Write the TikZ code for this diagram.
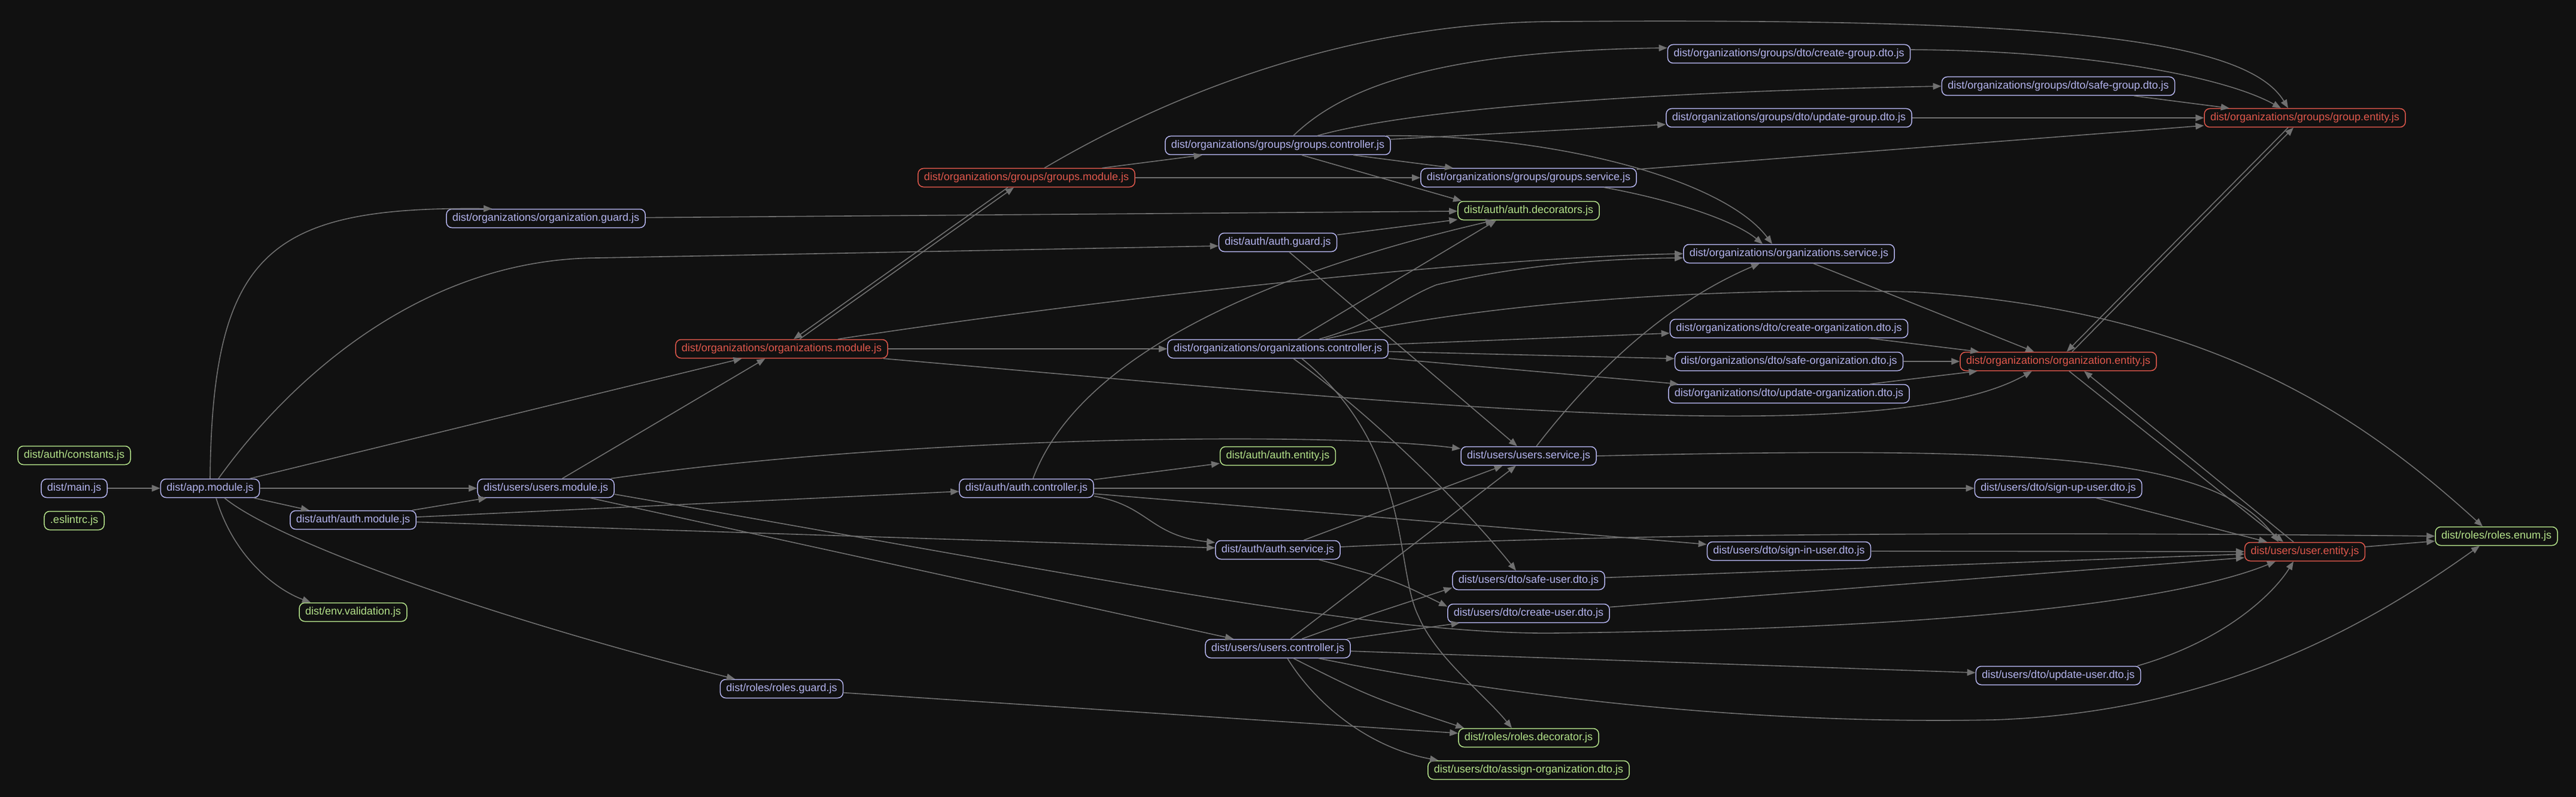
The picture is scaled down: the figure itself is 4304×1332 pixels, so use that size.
\documentclass[tikz,border=0pt]{standalone}
\usepackage{fontspec}
\setmainfont{Liberation Sans}
\usetikzlibrary{arrows.meta}

\definecolor{bgcol}{HTML}{111111}
\definecolor{edgecol}{HTML}{707070}
\definecolor{lavcol}{HTML}{B4B4EE}
\definecolor{redcol}{HTML}{E0584C}
\definecolor{greencol}{HTML}{B4E28A}

\tikzset{
  file/.style={rectangle,rounded corners=9pt,line width=1.5pt,fill=bgcol,inner xsep=10pt,inner ysep=0pt,minimum height=31pt,font=\fontsize{18pt}{20pt}\selectfont},
  plainfile/.style={file,draw=lavcol,text=lavcol},
  cyclefile/.style={file,draw=redcol,text=redcol},
  leaffile/.style={file,draw=greencol,text=greencol},
  dep/.style={draw=edgecol,line width=1.6pt,-{Triangle[length=14pt,width=11pt]}}
}

\begin{document}
\begin{tikzpicture}[x=1pt,y=-1pt]
\fill[bgcol] (0.000000,0.000000) rectangle (4304.000000,1332.000000);
% Drawing files
% Rank 1
\node[leaffile] (constants) at (124.000000,761.000000) {dist/auth/constants.js};
\node[plainfile] (main) at (124.000000,816.000000) {dist/main.js};
\node[leaffile] (eslintrc) at (124.000000,870.000000) {.eslintrc.js};
% Rank 2
\node[plainfile] (app) at (351.000000,816.000000) {dist/app.module.js};
% Rank 3
\node[plainfile] (authmod) at (590.000000,869.000000) {dist/auth/auth.module.js};
\node[leaffile] (envval) at (590.000000,1023.000000) {dist/env.validation.js};
% Rank 4
\node[plainfile] (orgguard) at (912.000000,365.000000) {dist/organizations/organization.guard.js};
\node[plainfile] (usersmod) at (912.000000,816.000000) {dist/users/users.module.js};
% Rank 5
\node[cyclefile] (orgmod) at (1306.000000,583.000000) {dist/organizations/organizations.module.js};
\node[plainfile] (rolesguard) at (1306.000000,1151.000000) {dist/roles/roles.guard.js};
% Rank 6
\node[cyclefile] (groupsmod) at (1715.000000,297.000000) {dist/organizations/groups/groups.module.js};
\node[plainfile] (authctrl) at (1715.000000,816.000000) {dist/auth/auth.controller.js};
% Rank 7
\node[plainfile] (groupsctrl) at (2135.000000,243.000000) {dist/organizations/groups/groups.controller.js};
\node[plainfile] (authguard) at (2135.000000,405.000000) {dist/auth/auth.guard.js};
\node[plainfile] (orgctrl) at (2135.000000,583.000000) {dist/organizations/organizations.controller.js};
\node[leaffile] (authentity) at (2135.000000,762.000000) {dist/auth/auth.entity.js};
\node[plainfile] (authsvc) at (2135.000000,919.000000) {dist/auth/auth.service.js};
\node[plainfile] (usersctrl) at (2135.000000,1084.000000) {dist/users/users.controller.js};
% Rank 8
\node[plainfile] (groupssvc) at (2554.000000,297.000000) {dist/organizations/groups/groups.service.js};
\node[leaffile] (authdec) at (2554.000000,352.000000) {dist/auth/auth.decorators.js};
\node[plainfile] (userssvc) at (2554.000000,762.000000) {dist/users/users.service.js};
\node[plainfile] (safeuser) at (2554.000000,970.000000) {dist/users/dto/safe-user.dto.js};
\node[plainfile] (createuser) at (2554.000000,1025.000000) {dist/users/dto/create-user.dto.js};
\node[leaffile] (rolesdec) at (2554.000000,1233.000000) {dist/roles/roles.decorator.js};
\node[leaffile] (assignorg) at (2554.000000,1287.000000) {dist/users/dto/assign-organization.dto.js};
% Rank 9
\node[plainfile] (creategroup) at (2989.000000,90.000000) {dist/organizations/groups/dto/create-group.dto.js};
\node[plainfile] (updategroup) at (2989.000000,197.000000) {dist/organizations/groups/dto/update-group.dto.js};
\node[plainfile] (orgsvc) at (2989.000000,424.000000) {dist/organizations/organizations.service.js};
\node[plainfile] (createorg) at (2989.000000,549.000000) {dist/organizations/dto/create-organization.dto.js};
\node[plainfile] (safeorg) at (2989.000000,604.000000) {dist/organizations/dto/safe-organization.dto.js};
\node[plainfile] (updateorg) at (2989.000000,658.000000) {dist/organizations/dto/update-organization.dto.js};
\node[plainfile] (signin) at (2989.000000,921.000000) {dist/users/dto/sign-in-user.dto.js};
% Rank 10
\node[plainfile] (safegroup) at (3439.000000,144.000000) {dist/organizations/groups/dto/safe-group.dto.js};
\node[cyclefile] (orgentity) at (3439.000000,604.000000) {dist/organizations/organization.entity.js};
\node[plainfile] (signup) at (3439.000000,816.000000) {dist/users/dto/sign-up-user.dto.js};
\node[plainfile] (updateuser) at (3439.000000,1129.000000) {dist/users/dto/update-user.dto.js};
% Rank 11
\node[cyclefile] (groupentity) at (3851.000000,197.000000) {dist/organizations/groups/group.entity.js};
\node[cyclefile] (userentity) at (3851.000000,922.000000) {dist/users/user.entity.js};
% Rank 12
\node[leaffile] (rolesenum) at (4171.000000,896.000000) {dist/roles/roles.enum.js};
% Done with files; drawing dependencies
% main.js
\draw[dep] (main) -- (app);
% app.module.js
\draw[dep] (app.north) .. controls (355.000000,420.000000) and (450.000000,345.000000) .. ([xshift=-90pt]orgguard.north);
\draw[dep] ([xshift=14pt]app.north) .. controls (480.000000,640.000000) and (700.000000,432.000000) .. (1000.000000,431.000000) -- ([yshift=-6pt]authguard.west);
\draw[dep] (app) -- (orgmod);
\draw[dep] (app) -- (usersmod);
\draw[dep] (app) -- (authmod);
\draw[dep] ([xshift=10pt]app.south) .. controls (390.000000,930.000000) and (460.000000,985.000000) .. ([xshift=-71pt]envval.north);
\draw[dep] ([xshift=24pt]app.south) .. controls (470.000000,910.000000) and (850.000000,1040.000000) .. ([xshift=-78pt]rolesguard.north);
% auth.module.js
\draw[dep] (authmod) -- (usersmod);
\draw[dep] (authmod) -- (authctrl);
\draw[dep] (authmod) -- (authsvc);
% organization.guard.js
\draw[dep] (orgguard) -- (authdec);
% users.module.js
\draw[dep] (usersmod) -- (orgmod);
\draw[dep] ([xshift=-6pt]usersmod.north east) .. controls (1500.000000,730.000000) and (2200.000000,720.000000) .. ([yshift=-4pt]userssvc.north west);
\draw[dep] (usersmod) -- (usersctrl);
\draw[dep] ([yshift=-10pt]usersmod.east) .. controls (1800.000000,960.000000) and (2300.000000,1062.000000) .. (2600.000000,1058.000000) .. controls (3300.000000,1050.000000) and (3650.000000,1000.000000) .. ([xshift=-49pt]userentity.south);
% organizations.module.js
\draw[dep] ([xshift=30pt]orgmod.north) -- ([xshift=-21pt]groupsmod.south);
\draw[dep] (orgmod) -- (orgctrl);
\draw[dep] ([xshift=94pt]orgmod.north) .. controls (1900.000000,490.000000) and (2500.000000,430.000000) .. (orgsvc.west);
\draw[dep] ([xshift=170pt]orgmod.south) .. controls (2300.000000,670.000000) and (3150.000000,760.000000) .. ([xshift=-44pt]orgentity.south);
% roles.guard.js
\draw[dep] (rolesguard) -- (rolesdec);
% groups.module.js
\draw[dep] ([xshift=-31pt]groupsmod.south) -- ([xshift=20pt]orgmod.north);
\draw[dep] (groupsmod) -- (groupsctrl);
\draw[dep] (groupsmod) -- (groupssvc);
\draw[dep] ([xshift=30pt]groupsmod.north) .. controls (1950.000000,160.000000) and (2250.000000,37.000000) .. (2600.000000,36.000000) .. controls (3400.000000,30.000000) and (3750.000000,60.000000) .. ([xshift=-28pt]groupentity.north);
% auth.controller.js
\draw[dep] ([xshift=11pt]authctrl.north) .. controls (1800.000000,600.000000) and (2100.000000,460.000000) .. ([xshift=-58pt]authdec.south);
\draw[dep] (authctrl) -- (authentity);
\draw[dep] (authctrl) -- (signup);
\draw[dep] ([yshift=3pt]authctrl.south east) .. controls (1920.000000,845.000000) and (1920.000000,895.000000) .. ([yshift=-4pt]authsvc.north west);
\draw[dep] (authctrl) -- (signin);
% groups.controller.js
\draw[dep] ([xshift=26pt]groupsctrl.north) .. controls (2260.000000,130.000000) and (2450.000000,85.000000) .. ([yshift=10pt]creategroup.west);
\draw[dep] ([xshift=66pt]groupsctrl.north) .. controls (2350.000000,185.000000) and (2700.000000,155.000000) .. (safegroup.west);
\draw[dep] (groupsctrl) -- (updategroup);
\draw[dep] ([xshift=-8pt]groupsctrl.north east) .. controls (2600.000000,225.000000) and (2880.000000,300.000000) .. ([xshift=-28pt]orgsvc.north);
\draw[dep] (groupsctrl) -- (groupssvc);
\draw[dep] ([xshift=40pt]groupsctrl.south) -- ([xshift=-112pt]authdec.north);
% auth.guard.js
\draw[dep] (authguard) -- (authdec);
\draw[dep] (authguard) -- (userssvc);
% organizations.controller.js
\draw[dep] ([xshift=33pt]orgctrl.north) -- ([xshift=-54pt]authdec.south);
\draw[dep] ([xshift=69pt]orgctrl.north) .. controls (2300.000000,540.000000) and (2340.000000,500.000000) .. (2400.000000,476.000000) .. controls (2550.000000,440.000000) and (2700.000000,432.000000) .. ([yshift=-7pt]orgsvc.west);
\draw[dep] ([xshift=79pt]orgctrl.north) .. controls (2500.000000,500.000000) and (2900.000000,480.000000) .. (3200.000000,488.000000) .. controls (3700.000000,520.000000) and (3950.000000,700.000000) .. ([xshift=-23pt]rolesenum.north);
\draw[dep] (orgctrl) -- (createorg);
\draw[dep] (orgctrl) -- (safeorg);
\draw[dep] (orgctrl) -- (updateorg);
\draw[dep] ([xshift=26pt]orgctrl.south) .. controls (2300.000000,700.000000) and (2450.000000,850.000000) .. ([xshift=-21pt]safeuser.north);
\draw[dep] ([xshift=40pt]orgctrl.south) .. controls (2360.000000,750.000000) and (2330.000000,950.000000) .. (2370.000000,1030.000000) .. controls (2400.000000,1100.000000) and (2480.000000,1160.000000) .. ([xshift=-28pt]rolesdec.north);
% auth.service.js
\draw[dep] (authsvc) -- (userssvc);
\draw[dep] ([xshift=68pt]authsvc.south) .. controls (2330.000000,970.000000) .. ([yshift=-5pt]createuser.north west);
\draw[dep] ([yshift=5pt]authsvc.east) .. controls (2700.000000,892.000000) and (3300.000000,888.000000) .. (rolesenum.west);
% users.controller.js
\draw[dep] (usersctrl) -- (userssvc);
\draw[dep] ([xshift=40pt]usersctrl.north) .. controls (2280.000000,1030.000000) .. ([yshift=4pt]safeuser.south west);
\draw[dep] (usersctrl) -- (createuser);
\draw[dep] (usersctrl) -- (updateuser);
\draw[dep] ([xshift=68pt]usersctrl.south) .. controls (2600.000000,1180.000000) and (3000.000000,1210.000000) .. (3333.000000,1203.000000) .. controls (3700.000000,1190.000000) and (3950.000000,1050.000000) .. ([xshift=-28pt]rolesenum.south);
\draw[dep] ([xshift=26pt]usersctrl.south) .. controls (2290.000000,1165.000000) .. ([xshift=10pt]rolesdec.north west);
\draw[dep] ([xshift=16pt]usersctrl.south) .. controls (2200.000000,1180.000000) and (2290.000000,1250.000000) .. ([xshift=18pt]assignorg.north west);
% users.service.js
\draw[dep] ([xshift=13pt]userssvc.north) .. controls (2680.000000,600.000000) and (2800.000000,500.000000) .. ([xshift=-49pt]orgsvc.south);
\draw[dep] (userssvc.east) .. controls (3400.000000,745.000000) and (3700.000000,760.000000) .. ([xshift=-44pt]userentity.north);
% groups.service.js
\draw[dep] (groupssvc) -- (groupentity);
\draw[dep] ([xshift=126pt]groupssvc.south) .. controls (2800.000000,335.000000) and (2900.000000,370.000000) .. ([xshift=-44pt]orgsvc.north);
% organizations.service.js
\draw[dep] (orgsvc) -- (orgentity);
% dto files
\draw[dep] ([yshift=7pt]creategroup.east) .. controls (3500.000000,85.000000) and (3720.000000,130.000000) .. ([xshift=-40pt]groupentity.north);
\draw[dep] (safegroup) -- (groupentity);
\draw[dep] (updategroup) -- (groupentity);
\draw[dep] (createorg) -- (orgentity);
\draw[dep] (safeorg) -- (orgentity);
\draw[dep] (updateorg) -- (orgentity);
\draw[dep] (signup) -- (userentity);
\draw[dep] (signin) -- (userentity);
\draw[dep] (safeuser) -- ([yshift=-4pt]userentity.west);
\draw[dep] (createuser) -- ([yshift=-10pt]userentity.west);
\draw[dep] ([xshift=-6pt]updateuser.north east) .. controls (3720.000000,1070.000000) and (3800.000000,990.000000) .. ([xshift=-19pt]userentity.south);
% entity files
\draw[dep] ([xshift=-28pt]groupentity.south) -- ([xshift=14pt]orgentity.north);
\draw[dep] ([xshift=23pt]orgentity.north) -- ([xshift=-19pt]groupentity.south);
\draw[dep] ([xshift=18pt]orgentity.south) -- ([xshift=-36pt]userentity.north);
\draw[dep] ([xshift=-19pt]userentity.north) -- ([xshift=43pt]orgentity.south);
\draw[dep] (userentity) -- (rolesenum);
% Done with dependencies
\end{tikzpicture}
\end{document}
